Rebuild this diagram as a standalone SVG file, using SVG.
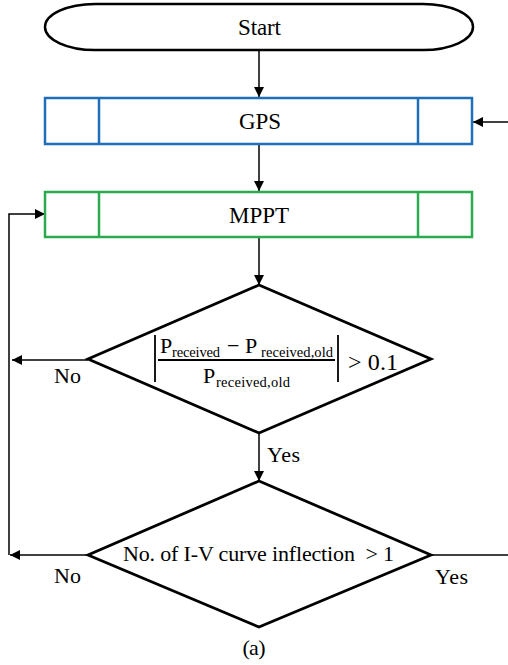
<svg xmlns="http://www.w3.org/2000/svg" width="508" height="665" viewBox="0 0 508 665">
<style>
text{font-family:"Liberation Serif","Times New Roman",serif;fill:#000}
.t{font-size:23px;text-anchor:middle}
.d{font-size:22px;text-anchor:middle}
.lbl{font-size:22px}
.sub{font-size:14.5px}
.big{font-size:22px}
.blue{fill:#fff;stroke:#1f6fb8;stroke-width:2.5}
.bl{stroke:#1f6fb8;stroke-width:2.5}
.green{fill:#fff;stroke:#2baa4e;stroke-width:2.5}
.gl{stroke:#2baa4e;stroke-width:2.5}
.dia{fill:#fff;stroke:#000;stroke-width:2.8}
.con{fill:none;stroke:#000;stroke-width:1.5}
.bar{stroke:#000;stroke-width:1.8}
</style>
<defs>
<marker id="ah" viewBox="0 0 10 10" refX="10" refY="5" markerWidth="10" markerHeight="10" markerUnits="userSpaceOnUse" orient="auto">
<path d="M0,0 L10,5 L0,10 Z" fill="#000"/>
</marker>
</defs>
<g id="connectors">
<line class="con" x1="259" y1="50" x2="259" y2="97" marker-end="url(#ah)"/>
<line class="con" x1="259" y1="144" x2="259" y2="191" marker-end="url(#ah)"/>
<line class="con" x1="508" y1="122" x2="473" y2="122" marker-end="url(#ah)"/>
<line class="con" x1="259" y1="237" x2="259" y2="285" marker-end="url(#ah)"/>
<polyline class="con" points="9,555 9,214 45,214" marker-end="url(#ah)"/>
<line class="con" x1="88" y1="360" x2="12" y2="360" marker-end="url(#ah)"/>
<line class="con" x1="259" y1="433" x2="259" y2="481" marker-end="url(#ah)"/>
<line class="con" x1="88" y1="555" x2="10" y2="555" marker-end="url(#ah)"/>
<line class="con" x1="431" y1="555" x2="508" y2="555"/>
<text class="lbl" x="54" y="383" textLength="27">No</text>
<text class="lbl" x="267" y="462" textLength="33">Yes</text>
<text class="lbl" x="54" y="583" textLength="27">No</text>
<text class="lbl" x="435" y="584" textLength="33">Yes</text>
</g>
<g id="start">
<rect x="45" y="4" width="428" height="46" rx="50" ry="23" fill="#fff" stroke="#000" stroke-width="2.5"/>
<text class="t" x="259.5" y="35" textLength="43">Start</text>
</g>
<g id="gps">
<rect class="blue" x="45" y="98" width="427" height="46"/>
<line class="bl" x1="99" y1="98" x2="99" y2="144"/>
<line class="bl" x1="418" y1="98" x2="418" y2="144"/>
<text class="t" x="260" y="129" textLength="42">GPS</text>
</g>
<g id="mppt">
<rect class="green" x="45" y="192" width="427" height="45"/>
<line class="gl" x1="99" y1="192" x2="99" y2="237"/>
<line class="gl" x1="418" y1="192" x2="418" y2="237"/>
<text class="t" x="259" y="223" textLength="60">MPPT</text>
</g>
<g id="decision1">
<polygon class="dia" points="259,285 431,359 259,433 88,359"/>
<line class="bar" x1="155" y1="335" x2="155" y2="382"/>
<line class="bar" x1="338" y1="335" x2="338" y2="382"/>
<line class="bar" x1="158" y1="360" x2="335" y2="360"/>
<text class="big" x="160" y="353">P</text>
<text class="sub" x="172" y="357" textLength="48">received</text>
<text class="big" x="227" y="353" textLength="14">−</text>
<text class="big" x="245" y="353">P</text>
<text class="sub" x="261" y="357" textLength="72">received,old</text>
<text class="big" x="203" y="383">P</text>
<text class="sub" x="216" y="387" textLength="74">received,old</text>
<text x="348" y="370" font-size="24" textLength="50">&gt; 0.1</text>
</g>
<g id="decision2">
<polygon class="dia" points="259,481 431,555 259,627 88,555"/>
<text class="d" x="258.5" y="561" textLength="271">No. of I-V curve inflection&#160; &gt; 1</text>
</g>
<text class="d" x="254" y="655" font-size="21" textLength="23">(a)</text>
</svg>
